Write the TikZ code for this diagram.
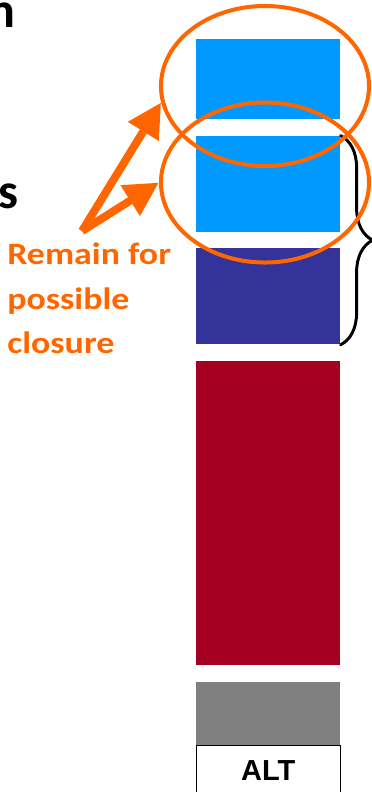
\documentclass[tikz,border=0pt]{standalone}
\usepackage{fontspec}
\setmainfont{Carlito}
\newfontfamily\calloutfont[FakeStretch=1.16]{Carlito}
\newfontfamily\labelfont{Liberation Sans}
\usetikzlibrary{positioning, arrows.meta, shapes.geometric, decorations.pathreplacing}
\definecolor{skyblue}{RGB}{0,153,255}
\definecolor{navyblue}{RGB}{51,51,153}
\definecolor{wine}{RGB}{165,0,33}
\definecolor{slidegray}{RGB}{128,128,128}
\definecolor{hilite}{RGB}{255,102,0}
\tikzset{
  % stacked blocks
  block/.style={
    rectangle, draw=none, inner sep=0pt,
    minimum width=3.6cm
  },
  altbox/.style={
    rectangle, draw=black, line width=1pt, inner sep=0pt,
    minimum width=3.6cm, minimum height=1.225cm,
    font=\labelfont\bfseries\fontsize{20.6}{24}\selectfont
  },
  % highlight rings and arrows
  ring/.style={
    draw=hilite, ellipse, line width=2.85pt, inner sep=0pt,
    minimum width=5.2cm, minimum height=4cm
  },
  pointer/.style={
    draw=hilite, line width=5.7pt,
    -{Triangle[length=0.85cm, width=0.85cm]}
  },
  curly/.style={
    decorate, decoration={brace, amplitude=0.8cm},
    line width=2.1pt, line cap=round
  },
  callout/.style={
    text=hilite, align=left, inner sep=0pt,
    font=\calloutfont\bfseries\fontsize{22}{31.3}\selectfont
  },
  edgeword/.style={
    inner sep=0pt, font=\bfseries\fontsize{35.6}{40}\selectfont
  },
}

\begin{document}
\begin{tikzpicture}[x=0.025cm, y=-0.025cm, node distance=0.4cm]

  \useasboundingbox (0,0) rectangle (372,792);

  %% ── Stack ──
  \node[block, fill=skyblue, minimum height=2cm, anchor=north west] (blueA) at (196,39) {};
  \node[block, fill=skyblue, minimum height=2.4cm, below=of blueA] (blueB) {};
  \node[block, fill=navyblue, minimum height=2.4cm, below=of blueB] (navy) {};
  \node[block, fill=wine, minimum height=7.6cm, below=of navy] (red) {};
  \node[block, fill=slidegray, minimum height=1.575cm, below=of red] (gray) {};
  \node[altbox, below=0cm of gray] (alt) {ALT};

  %% ── Brace ──
  \draw[curly] (blueB.north east) -- (navy.south east);

  %% ── Rings ──
  \node[ring] (ringA) at (265,86) {};
  \node[ring] (ringB) at (265,182.5) {};

  %% ── Callout ──
  \coordinate (src) at (82,231);
  \draw[pointer] (src) -- (ringA.189);
  \draw[pointer] (src) -- (ringB.180);
  \node[callout, anchor=north west] (note) at (7,243) {Remain for\\possible\\closure};

  %% ── Cut-off words ──
  \node[edgeword, anchor=base east] (wordN) at (16,27) {n};
  \node[edgeword, anchor=base east] (wordS) at (19,208) {s};

\end{tikzpicture}
\end{document}
